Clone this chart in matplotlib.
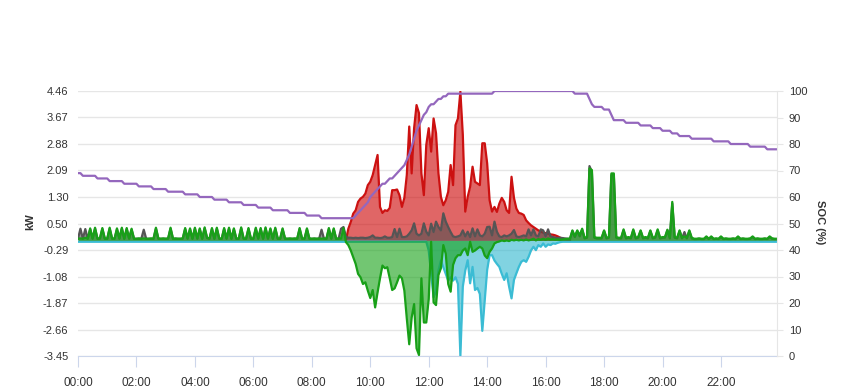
import numpy as np
import matplotlib.pyplot as plt

plt.rcParams['font.family'] = ['Liberation Sans', 'DejaVu Sans']

# 5-minute samples over one day
hours = np.arange(288) / 12

# PV production (kW)
pv = [
    0, 0, 0, 0, 0, 0, 0, 0, 0, 0, 0, 0,
    0, 0, 0, 0, 0, 0, 0, 0, 0, 0, 0, 0,
    0, 0, 0, 0, 0, 0, 0, 0, 0, 0, 0, 0,
    0, 0, 0, 0, 0, 0, 0, 0, 0, 0, 0, 0,
    0, 0, 0, 0, 0, 0, 0, 0, 0, 0, 0, 0,
    0, 0, 0, 0, 0, 0, 0, 0, 0, 0, 0, 0,
    0, 0, 0, 0, 0, 0, 0, 0, 0, 0, 0, 0,
    0, 0, 0, 0, 0, 0, 0, 0, 0, 0, 0, 0,
    0, 0, 0, 0, 0, 0, 0, 0, 0, 0, 0, 0,
    0, 0, 0, 0.35, 0.55, 0.8, 0.9, 1.15, 1.25, 1.3, 1.4, 1.65,
    1.75, 1.95, 2.25, 2.55, 1.0, 0.82, 0.9, 0.88, 0.97, 1.5, 1.5, 1.52,
    1.35, 1.0, 1.27, 1.95, 3.4, 2.0, 3.35, 4.04, 3.8, 2.0, 1.35, 2.85,
    3.35, 2.65, 3.64, 3.2, 2.0, 1.3, 1.05, 1.2, 1.45, 2.25, 1.65, 3.44,
    3.64, 4.44, 3.15, 0.86, 1.3, 1.6, 2.2, 1.75, 1.7, 1.65, 2.9, 2.9,
    2.3, 1.2, 0.86, 1.0, 0.85, 1.1, 1.27, 1.15, 0.9, 0.82, 1.9, 1.27,
    0.95, 0.82, 0.8, 0.76, 0.6, 0.52, 0.45, 0.4, 0.35, 0.3, 0.26, 0.23,
    0.22, 0.2, 0.18, 0.17, 0.15, 0.12, 0.08, 0.05, 0.03, 0.01, 0, 0,
    0, 0, 0, 0, 0, 0, 0, 0, 0, 0, 0, 0,
    0, 0, 0, 0, 0, 0, 0, 0, 0, 0, 0, 0,
    0, 0, 0, 0, 0, 0, 0, 0, 0, 0, 0, 0,
    0, 0, 0, 0, 0, 0, 0, 0, 0, 0, 0, 0,
    0, 0, 0, 0, 0, 0, 0, 0, 0, 0, 0, 0,
    0, 0, 0, 0, 0, 0, 0, 0, 0, 0, 0, 0,
    0, 0, 0, 0, 0, 0, 0, 0, 0, 0, 0, 0,
]

# house load (kW)
load = [
    0.05, 0.35, 0.05, 0.34, 0.05, 0.33, 0.05, 0.35, 0.05, 0.05, 0.34, 0.05,
    0.05, 0.35, 0.05, 0.05, 0.33, 0.05, 0.35, 0.05, 0.34, 0.05, 0.32, 0.05,
    0.05, 0.05, 0.05, 0.32, 0.05, 0.05, 0.05, 0.05, 0.35, 0.05, 0.05, 0.05,
    0.05, 0.05, 0.35, 0.05, 0.05, 0.05, 0.05, 0.05, 0.34, 0.05, 0.33, 0.05,
    0.35, 0.05, 0.33, 0.05, 0.36, 0.07, 0.05, 0.34, 0.05, 0.35, 0.05, 0.05,
    0.34, 0.05, 0.35, 0.05, 0.33, 0.05, 0.05, 0.36, 0.05, 0.05, 0.34, 0.05,
    0.05, 0.35, 0.05, 0.34, 0.05, 0.36, 0.05, 0.33, 0.05, 0.35, 0.05, 0.05,
    0.33, 0.05, 0.05, 0.05, 0.05, 0.05, 0.05, 0.34, 0.05, 0.05, 0.33, 0.05,
    0.05, 0.05, 0.05, 0.05, 0.32, 0.05, 0.05, 0.34, 0.05, 0.33, 0.05, 0.05,
    0.35, 0.4, 0.12, 0.08, 0.08, 0.07, 0.08, 0.07, 0.08, 0.08, 0.07, 0.08,
    0.1, 0.15, 0.08, 0.08, 0.07, 0.08, 0.12, 0.08, 0.08, 0.1, 0.34, 0.1,
    0.35, 0.1, 0.1, 0.12, 0.2, 0.3, 0.51, 0.2, 0.15, 0.2, 0.51, 0.26,
    0.15, 0.5, 0.25, 0.56, 0.4, 0.3, 0.81, 0.56, 0.4, 0.25, 0.12, 0.1,
    0.12, 0.15, 0.3, 0.12, 0.26, 0.1, 0.36, 0.12, 0.33, 0.15, 0.12, 0.2,
    0.4, 0.41, 0.15, 0.56, 0.26, 0.12, 0.1, 0.15, 0.12, 0.15, 0.2, 0.31,
    0.12, 0.1, 0.12, 0.15, 0.12, 0.33, 0.15, 0.33, 0.15, 0.12, 0.33, 0.3,
    0.12, 0.33, 0.12, 0.1, 0.08, 0.07, 0.08, 0.07, 0.06, 0.05, 0.05, 0.28,
    0.1, 0.28, 0.12, 0.32, 0.06, 0.08, 2.22, 2.05, 0.08, 0.06, 0.06, 0.06,
    0.28, 0.06, 0.08, 1.95, 1.95, 0.08, 0.06, 0.06, 0.3, 0.06, 0.08, 0.06,
    0.3, 0.06, 0.08, 0.28, 0.06, 0.08, 0.06, 0.28, 0.06, 0.08, 0.3, 0.06,
    0.08, 0.08, 0.3, 0.06, 1.1, 0.08, 0.06, 0.28, 0.06, 0.25, 0.06, 0.28,
    0.06, 0.04, 0.04, 0.05, 0.04, 0.04, 0.1, 0.04, 0.1, 0.04, 0.05, 0.04,
    0.1, 0.04, 0.05, 0.04, 0.04, 0.05, 0.04, 0.1, 0.04, 0.05, 0.04, 0.04,
    0.05, 0.1, 0.04, 0.05, 0.04, 0.04, 0.05, 0.04, 0.1, 0.05, 0.04, 0.04,
]

# grid power (kW), import positive / export negative
grid = [
    0.05, 0.06, 0.05, 0.08, 0.05, 0.36, 0.06, 0.38, 0.05, 0.07, 0.37, 0.06,
    0.05, 0.38, 0.06, 0.05, 0.36, 0.06, 0.38, 0.05, 0.37, 0.06, 0.35, 0.05,
    0.05, 0.06, 0.05, 0.06, 0.05, 0.05, 0.06, 0.05, 0.38, 0.06, 0.05, 0.06,
    0.05, 0.06, 0.38, 0.05, 0.06, 0.05, 0.05, 0.06, 0.37, 0.06, 0.36, 0.05,
    0.38, 0.06, 0.36, 0.05, 0.39, 0.08, 0.06, 0.37, 0.05, 0.38, 0.06, 0.05,
    0.37, 0.06, 0.38, 0.05, 0.36, 0.06, 0.05, 0.39, 0.06, 0.05, 0.37, 0.06,
    0.05, 0.38, 0.06, 0.37, 0.05, 0.39, 0.06, 0.36, 0.05, 0.38, 0.06, 0.05,
    0.36, 0.06, 0.05, 0.06, 0.05, 0.06, 0.05, 0.37, 0.06, 0.05, 0.36, 0.06,
    0.05, 0.06, 0.05, 0.06, 0.05, 0.06, 0.05, 0.37, 0.06, 0.36, 0.05, 0.06,
    0.05, 0.37, -0.05, -0.14, -0.3, -0.5, -0.7, -1.0, -1.1, -1.3, -1.25, -1.5,
    -1.72, -1.48, -2.0, -1.55, -1.13, -0.75, -0.83, -0.8, -1.13, -1.48, -1.43, -1.25,
    -1.05, -1.13, -1.5, -2.33, -3.1, -2.3, -1.9, -3.22, -3.42, -1.13, -2.45, -2.45,
    -1.75, -0.04, -1.85, -1.93, -1.03, -0.83, -0.14, -0.4, -1.3, -1.53, -0.73, -0.53,
    -0.44, -0.44, -0.3, -0.24, -0.44, -0.04, -0.34, -0.3, -0.24, -0.19, -0.24, -0.45,
    -0.53, -0.34, -0.24, -0.09, -0.05, -0.03, 0.0, -0.02, 0.0, -0.02, 0.02, 0.0,
    0.02, 0.0, 0.02, 0.0, 0.03, 0.0, 0.02, 0.05, 0.0, 0.04, 0.02, 0.05,
    0.02, 0.06, 0.03, 0.04, 0.02, 0.03, 0.02, 0.03, 0.04, 0.05, 0.05, 0.3,
    0.12, 0.3, 0.15, 0.35, 0.08, 0.1, 2.15, 2.1, 0.1, 0.08, 0.08, 0.08,
    0.3, 0.08, 0.1, 2.0, 2.0, 0.1, 0.08, 0.08, 0.33, 0.08, 0.1, 0.08,
    0.33, 0.08, 0.1, 0.3, 0.08, 0.1, 0.08, 0.3, 0.08, 0.1, 0.33, 0.08,
    0.1, 0.1, 0.32, 0.08, 1.15, 0.1, 0.08, 0.3, 0.08, 0.12, 0.08, 0.3,
    0.08, 0.05, 0.05, 0.06, 0.05, 0.05, 0.12, 0.05, 0.12, 0.05, 0.06, 0.05,
    0.12, 0.05, 0.06, 0.05, 0.05, 0.06, 0.05, 0.12, 0.05, 0.06, 0.05, 0.05,
    0.06, 0.12, 0.05, 0.06, 0.05, 0.05, 0.06, 0.05, 0.12, 0.06, 0.05, 0.05,
]

# battery power (kW), charging negative
battery = [
    -0.04, -0.04, -0.04, -0.04, -0.04, -0.04, -0.04, -0.04, -0.04, -0.04, -0.04, -0.04,
    -0.04, -0.04, -0.04, -0.04, -0.04, -0.04, -0.04, -0.04, -0.04, -0.04, -0.04, -0.04,
    -0.04, -0.04, -0.04, -0.04, -0.04, -0.04, -0.04, -0.04, -0.04, -0.04, -0.04, -0.04,
    -0.04, -0.04, -0.04, -0.04, -0.04, -0.04, -0.04, -0.04, -0.04, -0.04, -0.04, -0.04,
    -0.04, -0.04, -0.04, -0.04, -0.04, -0.04, -0.04, -0.04, -0.04, -0.04, -0.04, -0.04,
    -0.04, -0.04, -0.04, -0.04, -0.04, -0.04, -0.04, -0.04, -0.04, -0.04, -0.04, -0.04,
    -0.04, -0.04, -0.04, -0.04, -0.04, -0.04, -0.04, -0.04, -0.04, -0.04, -0.04, -0.04,
    -0.04, -0.04, -0.04, -0.04, -0.04, -0.04, -0.04, -0.04, -0.04, -0.04, -0.04, -0.04,
    -0.04, -0.04, -0.04, -0.04, -0.04, -0.04, -0.04, -0.04, -0.04, -0.04, -0.04, -0.04,
    -0.04, -0.04, -0.04, -0.04, -0.04, -0.04, -0.04, -0.04, -0.04, -0.04, -0.04, -0.04,
    -0.04, -0.04, -0.04, -0.04, -0.04, -0.04, -0.04, -0.04, -0.04, -0.04, -0.04, -0.04,
    -0.04, -0.04, -0.04, -0.04, -0.04, -0.04, -0.04, -0.04, -0.04, -0.04, -0.04, -0.04,
    -0.3, -1.0, -1.7, -1.5, -0.9, -0.6, -0.8, -1.0, -1.2, -1.1, -1.2, -1.1,
    -1.3, -3.45, -1.38, -0.9, -0.59, -1.28, -0.79, -1.48, -1.42, -1.6, -2.7, -1.78,
    -0.88, -0.44, -0.44, -0.6, -0.7, -0.79, -1.0, -1.18, -0.98, -1.38, -1.73, -1.18,
    -0.98, -0.79, -0.64, -0.59, -0.64, -0.49, -0.3, -0.19, -0.29, -0.14, -0.19, -0.09,
    -0.19, -0.12, -0.14, -0.09, -0.1, -0.07, -0.05, -0.04, -0.04, -0.04, -0.04, -0.04,
    -0.04, -0.04, -0.04, -0.04, -0.04, -0.04, -0.04, -0.04, -0.04, -0.04, -0.04, -0.04,
    -0.04, -0.04, -0.04, -0.04, -0.04, -0.04, -0.04, -0.04, -0.04, -0.04, -0.04, -0.04,
    -0.04, -0.04, -0.04, -0.04, -0.04, -0.04, -0.04, -0.04, -0.04, -0.04, -0.04, -0.04,
    -0.04, -0.04, -0.04, -0.04, -0.04, -0.04, -0.04, -0.04, -0.04, -0.04, -0.04, -0.04,
    -0.04, -0.04, -0.04, -0.04, -0.04, -0.04, -0.04, -0.04, -0.04, -0.04, -0.04, -0.04,
    -0.04, -0.04, -0.04, -0.04, -0.04, -0.04, -0.04, -0.04, -0.04, -0.04, -0.04, -0.04,
    -0.04, -0.04, -0.04, -0.04, -0.04, -0.04, -0.04, -0.04, -0.04, -0.04, -0.04, -0.04,
]

# battery state of charge (%)
soc = [
    69, 69, 68, 68, 68, 68, 68, 68, 67, 67, 67, 67,
    67, 66, 66, 66, 66, 66, 66, 65, 65, 65, 65, 65,
    65, 64, 64, 64, 64, 64, 64, 63, 63, 63, 63, 63,
    63, 62, 62, 62, 62, 62, 62, 62, 61, 61, 61, 61,
    61, 61, 60, 60, 60, 60, 60, 60, 59, 59, 59, 59,
    59, 59, 58, 58, 58, 58, 58, 58, 57, 57, 57, 57,
    57, 57, 56, 56, 56, 56, 56, 56, 55, 55, 55, 55,
    55, 55, 55, 54, 54, 54, 54, 54, 54, 54, 53, 53,
    53, 53, 53, 53, 52, 52, 52, 52, 52, 52, 52, 52,
    52, 52, 52, 52, 52, 52, 53, 54, 55, 56, 57, 58,
    60, 61, 62, 63, 64, 65, 65, 66, 67, 67, 68, 69,
    70, 71, 72, 74, 76, 79, 82, 85, 87, 89, 91, 92,
    94, 95, 95, 96, 97, 97, 98, 98, 99, 99, 99, 99,
    99, 99, 99, 99, 99, 99, 99, 99, 99, 99, 99, 99,
    99, 99, 99, 100, 100, 100, 100, 100, 100, 100, 100, 100,
    100, 100, 100, 100, 100, 100, 100, 100, 100, 100, 100, 100,
    100, 100, 100, 100, 100, 100, 100, 100, 100, 100, 100, 100,
    99, 99, 99, 99, 99, 99, 97, 95, 94, 94, 94, 94,
    93, 93, 93, 91, 89, 89, 89, 89, 89, 88, 88, 88,
    88, 88, 88, 87, 87, 87, 87, 87, 86, 86, 86, 86,
    85, 85, 85, 85, 84, 84, 84, 83, 83, 83, 83, 83,
    82, 82, 82, 82, 82, 82, 82, 82, 82, 81, 81, 81,
    81, 81, 81, 81, 80, 80, 80, 80, 80, 80, 80, 80,
    79, 79, 79, 79, 79, 79, 79, 78, 78, 78, 78, 78,
]

kw_ticks = [-3.45, -2.66, -1.87, -1.08, -0.29, 0.50, 1.30, 2.09, 2.88, 3.67, 4.46]
kw_labels = ['-3.45', '-2.66', '-1.87', '-1.08', '-0.29', '0.50', '1.30', '2.09', '2.88', '3.67', '4.46']
soc_ticks = [0, 10, 20, 30, 40, 50, 60, 70, 80, 90, 100]
time_ticks = [0, 2, 4, 6, 8, 10, 12, 14, 16, 18, 20, 22]
time_labels = ['00:00', '02:00', '04:00', '06:00', '08:00', '10:00',
               '12:00', '14:00', '16:00', '18:00', '20:00', '22:00']

pv = np.array(pv, dtype=float)
# hide the PV line where it is flat at zero all night
keep = (pv > 0) | (np.roll(pv, 1) > 0) | (np.roll(pv, -1) > 0)
pv_m = np.where(keep, pv, np.nan)

fig = plt.figure(figsize=(8.49, 3.9), dpi=100)
ax = fig.add_axes([78 / 849, 34 / 390, 699 / 849, 265 / 390])

ax.fill_between(hours, 0, pv_m, color='#cc0000', alpha=0.6, lw=0, zorder=1)
ax.plot(hours, pv_m, color='#cc1111', lw=1.6, zorder=2)
ax.fill_between(hours, 0, load, color='#505050', alpha=0.6, lw=0, zorder=3)
ax.plot(hours, load, color='#555555', lw=1.6, zorder=4)
ax.fill_between(hours, 0, battery, color='#2eb6ce', alpha=0.6, lw=0, zorder=5)
ax.plot(hours, battery, color='#3bbcd4', lw=1.6, zorder=6)
ax.fill_between(hours, 0, grid, color='#14a014', alpha=0.6, lw=0, zorder=7)
ax.plot(hours, grid, color='#18a018', lw=1.6, zorder=8)

ax.set_xlim(0, hours[-1])
ax.set_ylim(-3.45, 4.46)
ax.set_yticks(kw_ticks)
ax.set_yticklabels(kw_labels)
ax.set_xticks(time_ticks)
ax.set_xticklabels(time_labels)
ax.yaxis.grid(True, color='#e6e6e6', lw=1)
ax.set_axisbelow(True)
for s in ['top', 'left', 'right']:
    ax.spines[s].set_visible(False)
ax.spines['bottom'].set_color('#ccd6eb')
ax.tick_params(axis='x', length=8, color='#ccd6eb', labelsize=8.5,
               labelcolor='#333333', pad=7)
ax.tick_params(axis='y', length=0, labelsize=8, labelcolor='#333333', pad=7)

ax2 = ax.twinx()
ax2.plot(hours, soc, color='#9467bd', lw=1.6)
ax2.set_ylim(0, 100)
ax2.set_yticks(soc_ticks)
for s in ['top', 'left', 'bottom']:
    ax2.spines[s].set_visible(False)
ax2.spines['right'].set_color('#e6e6e6')
ax2.tick_params(axis='y', length=4.5, color='#e6e6e6', labelsize=8,
                labelcolor='#333333', pad=4)

fig.text(30 / 849, 1 - 222 / 390, 'kW', rotation=90, fontsize=8,
         fontweight='bold', color='#333333', ha='center', va='center')
fig.text(820 / 849, 1 - 222 / 390, 'SOC (%)', rotation=270, fontsize=8,
         fontweight='bold', color='#333333', ha='center', va='center')

fig.savefig('out.png', dpi=100)
